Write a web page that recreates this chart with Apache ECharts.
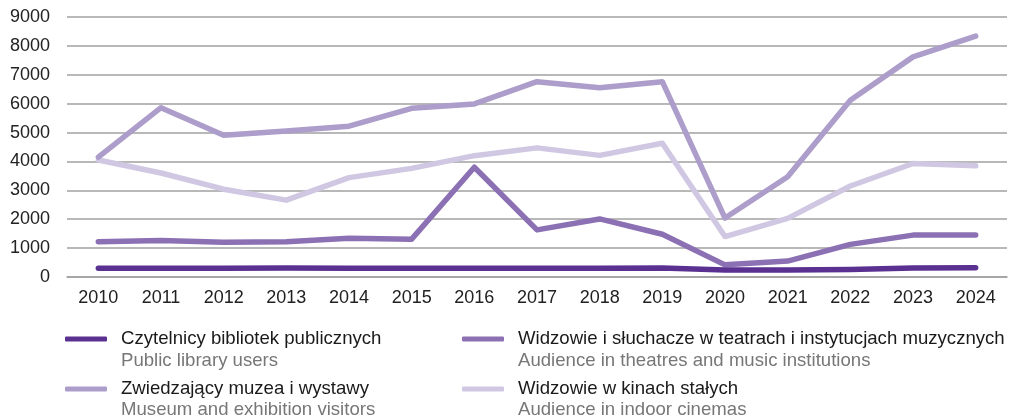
<!DOCTYPE html>
<html>
<head>
<meta charset="utf-8">
<script src="https://cdn.jsdelivr.net/npm/echarts@6/dist/echarts.min.js"></script>
<style>
html,body{margin:0;padding:0;background:#fff;}
#chart{width:1010px;height:417px;}
</style>
</head>
<body>
<div id="chart"></div>
<script>
const years = ['2010','2011','2012','2013','2014','2015','2016','2017','2018','2019','2020','2021','2022','2023','2024'];
const libraryUsers = [300,300,300,310,300,300,300,300,300,310,240,240,260,310,320];
const theatreAudience = [1220,1260,1200,1220,1340,1310,3800,1630,2010,1480,420,550,1130,1450,1450];
const museumVisitors = [4150,5860,4910,5050,5220,5840,5990,6760,6550,6760,2040,3470,6120,7620,8340];
const cinemaAudience = [4050,3600,3040,2660,3440,3760,4200,4470,4210,4630,1400,2030,3150,3930,3850];

const namesPl = ['Czytelnicy bibliotek publicznych','Widzowie i słuchacze w teatrach i instytucjach muzycznych','Zwiedzający muzea i wystawy','Widzowie w kinach stałych'];
const namesEn = ['Public library users','Audience in theatres and music institutions','Museum and exhibition visitors','Audience in indoor cinemas'];
const colors = ['#5a3190','#8c70b4','#ac9dcb','#d0c8e3'];

const FONT = '"Liberation Sans", Arial, sans-serif';
const legendPos = [[65,329],[462,329],[65,379],[462,379]];

function mkSeries(i, data, z){
  return {name:namesPl[i], type:'line', data:data, symbol:'none', z:z,
    lineStyle:{color:colors[i], width:5.5, cap:'round', join:'round'},
    itemStyle:{color:colors[i]}};
}

const chart = echarts.init(document.getElementById('chart'), null, {renderer:'canvas'});
chart.setOption({
  animation:false,
  textStyle:{fontFamily:FONT},
  grid:{left:67, right:3, top:17, bottom:140, containLabel:false},
  xAxis:{type:'category', data:years, boundaryGap:true,
    axisLine:{show:true, lineStyle:{color:'#a0a0a0', width:1.5}},
    axisTick:{show:false},
    axisLabel:{color:'#222', fontSize:18, fontFamily:FONT, margin:12}},
  yAxis:{type:'value', min:0, max:9000, interval:1000,
    axisLine:{show:false}, axisTick:{show:false},
    splitLine:{lineStyle:{color:'#a0a0a0', width:1.5}},
    axisLabel:{color:'#222', fontSize:18, fontFamily:FONT, margin:17, formatter:v=>String(v)}},
  legend: namesPl.map((n,i)=>({
    data:[n], left:legendPos[i][0], top:legendPos[i][1], padding:0,
    icon:'roundRect', itemWidth:42, itemHeight:5, selectedMode:false,
    textStyle:{color:'#1a1a1a', fontSize:18.6, fontFamily:FONT, lineHeight:20, padding:[0,0,0,9]}
  })),
  graphic: namesEn.map((t,i)=>({
    type:'text', left:legendPos[i][0]+56, top:legendPos[i][1]+ (i<2 ? 22 : 21),
    style:{text:t, fill:'#777777', fontSize:18.6, fontFamily:FONT}
  })),
  series:[
    mkSeries(3, cinemaAudience, 2),
    mkSeries(2, museumVisitors, 3),
    mkSeries(1, theatreAudience, 4),
    mkSeries(0, libraryUsers, 5)
  ]
});
</script>
</body>
</html>
